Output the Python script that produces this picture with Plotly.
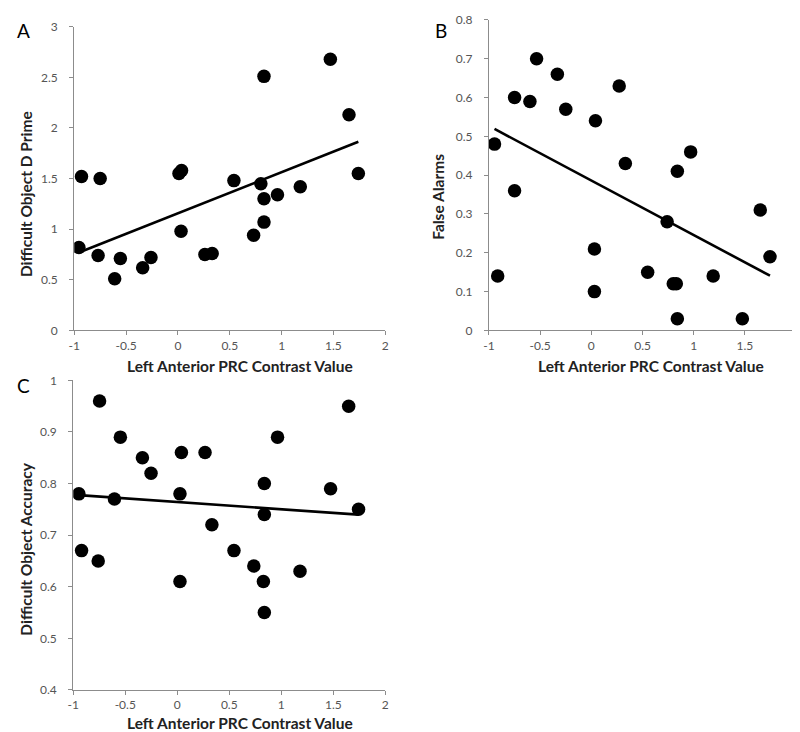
import numpy as np
import plotly.graph_objects as go

# Left Anterior PRC contrast values (per panel, as read)
x_a = [-0.955, -0.93, -0.75, -0.77, -0.61, -0.555, -0.34, -0.26, 0.01, 0.035, 0.03,
       0.26, 0.33, 0.54, 0.73, 0.80, 0.83, 0.83, 0.83, 0.96, 1.18, 1.47, 1.65, 1.74]
dprime = [0.82, 1.52, 1.50, 0.74, 0.51, 0.71, 0.62, 0.72, 1.55, 1.58, 0.98,
          0.75, 0.76, 1.48, 0.94, 1.45, 1.30, 1.07, 2.51, 1.34, 1.42, 2.68, 2.13, 1.55]

x_b = [-0.946, -0.915, -0.75, -0.75, -0.60, -0.535, -0.332, -0.25, 0.04, 0.03, 0.03,
       0.272, 0.332, 0.55, 0.74, 0.80, 0.84, 0.83, 0.84, 0.97, 1.19, 1.475, 1.65, 1.745]
false_alarms = [0.48, 0.14, 0.60, 0.36, 0.59, 0.70, 0.66, 0.57, 0.54, 0.10, 0.21,
                0.63, 0.43, 0.15, 0.28, 0.12, 0.41, 0.12, 0.03, 0.46, 0.14, 0.03, 0.31, 0.19]

x_c = [-0.946, -0.92, -0.747, -0.76, -0.604, -0.547, -0.335, -0.252, 0.026, 0.026, 0.04,
       0.267, 0.333, 0.545, 0.736, 0.828, 0.837, 0.837, 0.837, 0.964, 1.18, 1.474, 1.648, 1.743]
accuracy = [0.78, 0.67, 0.96, 0.65, 0.77, 0.89, 0.85, 0.82, 0.78, 0.61, 0.86,
            0.86, 0.72, 0.67, 0.64, 0.61, 0.80, 0.74, 0.55, 0.89, 0.63, 0.79, 0.95, 0.75]

x_ticks = [-1, -0.5, 0, 0.5, 1, 1.5, 2]
x_ticktext = ["-1", "-0.5", "0", "0.5", "1", "1.5", "2"]

panels = [
    dict(x=x_a, y=dprime, xa="x", ya="y", yr=[0, 3], yt=[0, 0.5, 1, 1.5, 2, 2.5, 3],
         ytt=["0", "0.5", "1", "1.5", "2", "2.5", "3"]),
    dict(x=x_b, y=false_alarms, xa="x2", ya="y2", yr=[0, 0.8],
         yt=[0, 0.1, 0.2, 0.3, 0.4, 0.5, 0.6, 0.7, 0.8],
         ytt=["0", "0.1", "0.2", "0.3", "0.4", "0.5", "0.6", "0.7", "0.8"]),
    dict(x=x_c, y=accuracy, xa="x3", ya="y3", yr=[0.4, 1.0],
         yt=[0.4, 0.5, 0.6, 0.7, 0.8, 0.9, 1.0],
         ytt=["0.4", "0.5", "0.6", "0.7", "0.8", "0.9", "1"]),
]

fig = go.Figure()
for p in panels:
    xs = np.array(p["x"]); ys = np.array(p["y"])
    m, b = np.polyfit(xs, ys, 1)
    lx = np.array([xs.min(), xs.max()])
    fig.add_trace(go.Scatter(x=lx, y=m * lx + b, mode="lines",
                             line=dict(color="black", width=2.6),
                             xaxis=p["xa"], yaxis=p["ya"], showlegend=False,
                             hoverinfo="skip"))
    fig.add_trace(go.Scatter(x=xs, y=ys, mode="markers",
                             marker=dict(color="black", size=13.5),
                             xaxis=p["xa"], yaxis=p["ya"], showlegend=False))

axis_common = dict(showgrid=False, zeroline=False, showline=True, linecolor="#8c8c8c",
                   linewidth=1, ticks="outside", ticklen=4, tickcolor="#8c8c8c",
                   tickfont=dict(family="Lato, sans-serif", size=12, color="#555"))

domains = {
    "": ([61 / 800, 376 / 800], [1 - 321 / 732, 1 - 11 / 732]),
    "2": ([481 / 800, 792 / 800], [1 - 321 / 732, 1 - 4 / 732]),
    "3": ([60 / 800, 376 / 800], [1 - 688 / 732, 1 - 372 / 732]),
}
for i, (k, (dx, dy)) in enumerate(domains.items()):
    p = panels[i]
    fig.update_layout(**{
        "xaxis" + k: dict(domain=dx, range=[-1, 2], tickvals=x_ticks, ticktext=x_ticktext,
                          anchor="y" + k, **axis_common),
        "yaxis" + k: dict(domain=dy, range=p["yr"], tickvals=p["yt"], ticktext=p["ytt"],
                          anchor="x" + k, ticklabelstandoff=9, **axis_common),
    })

title_font = dict(family="Lato, sans-serif", size=15.5, color="#222")
letter_font = dict(family="Lato, sans-serif", size=19, color="black")
annots = [
    # panel letters
    dict(text="A", x=10 / 800, y=1 - 15 / 732, font=letter_font),
    dict(text="B", x=432 / 800, y=1 - 15 / 732, font=letter_font),
    dict(text="C", x=10 / 800, y=1 - 377 / 732, font=letter_font),
    # x titles
    dict(text="<b>Left Anterior PRC Contrast Value</b>", x=229 / 800, y=1 - 357 / 732, font=title_font),
    dict(text="<b>Left Anterior PRC Contrast Value</b>", x=645 / 800, y=1 - 357 / 732, font=title_font),
    dict(text="<b>Left Anterior PRC Contrast Value</b>", x=229 / 800, y=1 - 722 / 732, font=title_font),
    # y titles
    dict(text="<b>Difficult Object D Prime</b>", x=12 / 800, y=1 - 182 / 732, textangle=-90, font=title_font),
    dict(text="<b>False Alarms</b>", x=430 / 800, y=1 - 185 / 732, textangle=-90, font=title_font),
    dict(text="<b>Difficult Object Accuracy</b>", x=12 / 800, y=1 - 544 / 732, textangle=-90, font=title_font),
]
for a in annots:
    fig.add_annotation(xref="paper", yref="paper", xanchor="center", yanchor="middle",
                       showarrow=False, **a)

fig.update_layout(width=800, height=732, margin=dict(l=0, r=0, t=0, b=0),
                  plot_bgcolor="white", paper_bgcolor="white")

fig.write_html("out.html")
